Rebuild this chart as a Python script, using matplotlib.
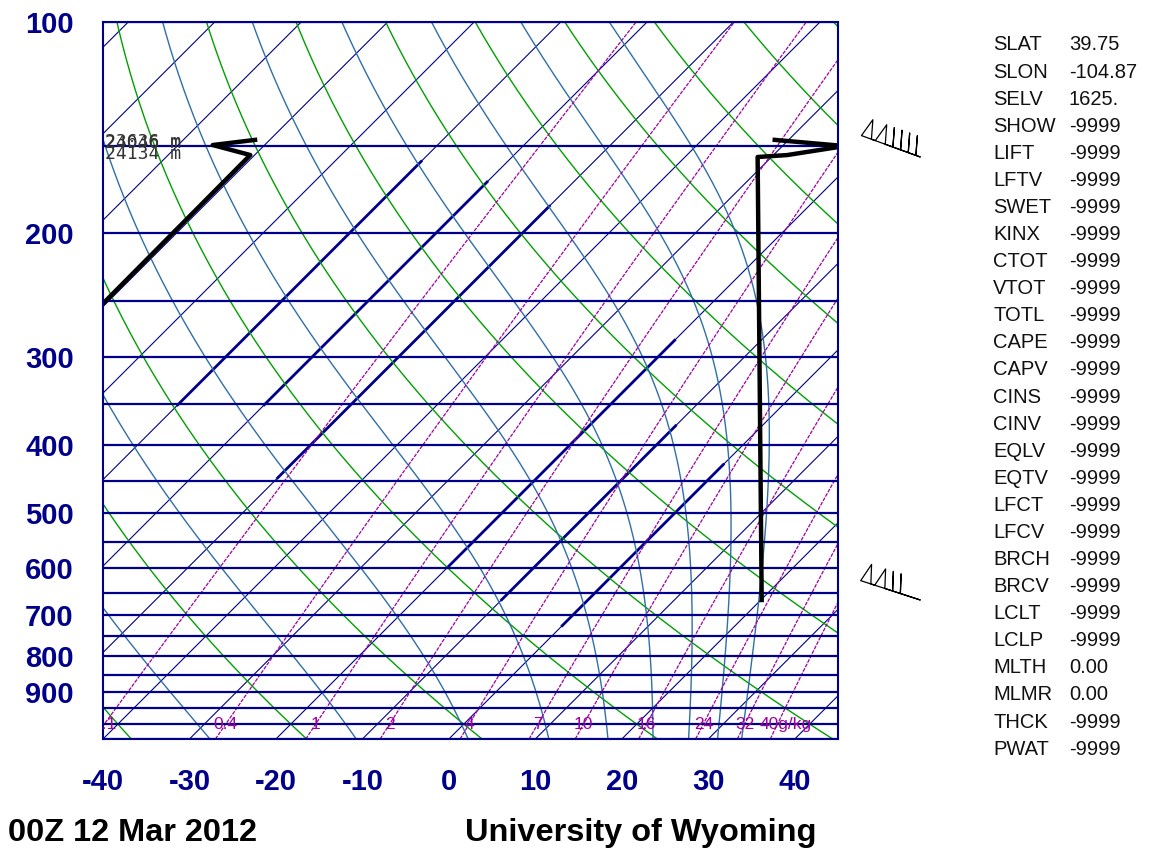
import numpy as np
import matplotlib
matplotlib.use('Agg')
import matplotlib.pyplot as plt
import matplotlib.transforms as mtransforms

# ---- diagram range ----
p_bot, p_top = 1050., 100.
t_left, t_right = -40., 45.

isobars = np.arange(100, 1051, 50)
p_ticks = [100, 200, 300, 400, 500, 600, 700, 800, 900]
t_ticks = [-40, -30, -20, -10, 0, 10, 20, 30, 40]
isotherms = np.arange(-130, 50, 10)
dry_theta = np.arange(-60, 200, 20)        # potential temperature, deg C
moist_thetae = np.arange(-30, 140, 20)     # equivalent pot. temperature, deg C
mix_ratios = [0.1, 0.4, 1, 2, 4, 7, 10, 16, 24, 32, 40]   # g/kg
mix_labels = ['0.1', '0.4', '1', '2', '4', '7', '10', '16', '24', '32', '40g/kg']
mix_label_p = 1000.

# bold stretches of some isotherms (deg C, bottom hPa, top hPa)
bold_t = [-70, -60, -50, -20, -10, 0]
bold_p_lo = [351, 351, 446, 598, 665, 724]
bold_p_hi = [158, 169, 183, 284, 376, 427]

# ---- sounding traces (hPa, deg C) ----
trace1_p = [300, 154.7, 149.7, 147.2]
trace1_t = [-90.3, -90.5, -96.0, -91.7]
trace2_p = [665.6, 155.7, 154.7, 150.2, 147.2]
trace2_t = [20.1, -31.6, -28.4, -22.8, -31.6]

height_labels = ['23636 m', '24046 m', '24134 m']
height_p = [148.3, 148.9, 154.3]

barb_p = [155.7, 665.6]
barb_speed = [140, 120]      # knots
barb_dir = [290, 288]        # degrees, wind from

stat_names = ['SLAT', 'SLON', 'SELV', 'SHOW', 'LIFT', 'LFTV', 'SWET', 'KINX',
              'CTOT', 'VTOT', 'TOTL', 'CAPE', 'CAPV', 'CINS', 'CINV', 'EQLV',
              'EQTV', 'LFCT', 'LFCV', 'BRCH', 'BRCV', 'LCLT', 'LCLP', 'MLTH',
              'MLMR', 'THCK', 'PWAT']
stat_values = ['39.75', '-104.87', '1625.', '-9999', '-9999', '-9999', '-9999',
               '-9999', '-9999', '-9999', '-9999', '-9999', '-9999', '-9999',
               '-9999', '-9999', '-9999', '-9999', '-9999', '-9999', '-9999',
               '-9999', '-9999', '0.00', '0.00', '-9999', '-9999']

NAVY = '#00008b'
GREEN = '#00a000'
STEEL = '#2f6fa8'
PURPLE = '#a000a0'

W, H = 1151, 852
fig = plt.figure(figsize=(W / 100, H / 100), dpi=100)
ax_box = [103 / W, 1 - 739 / H, 735 / W, 717 / H]
ax = fig.add_axes(ax_box)

# skew so that isotherms run at 45 degrees on screen
ax_w_in = ax_box[2] * W / 100
ax_h_in = ax_box[3] * H / 100
K = (ax_h_in / np.log(p_bot / p_top)) / (ax_w_in / (t_right - t_left))


def skew(t, p):
    return np.asarray(t) + K * np.log(p_bot / np.asarray(p))


def esat(tc):
    return 6.112 * np.exp(17.67 * tc / (tc + 243.5))


def thetae(tk, p):
    tc = tk - 273.15
    e = esat(tc)
    r = 622.0 * e / (p - e)
    return tk * (1000. / p) ** (0.2854 * (1 - 0.00028 * r)) * \
        np.exp((3.376 / tk - 0.00254) * r * (1 + 0.00081 * r))


pp = np.geomspace(p_bot, p_top, 300)

# isotherms
for t in isotherms:
    ax.plot(skew([t, t], [p_bot, p_top]), [p_bot, p_top], color=NAVY, lw=0.8)
for t, p0, p1 in zip(bold_t, bold_p_lo, bold_p_hi):
    ax.plot(skew([t, t], [p0, p1]), [p0, p1], color=NAVY, lw=2.0)

# dry adiabats
for th in dry_theta:
    tk = (th + 273.15) * (pp / 1000.) ** 0.2857
    ax.plot(skew(tk - 273.15, pp), pp, color=GREEN, lw=1.0)

# moist adiabats (solve theta_e(T, p) = target by bisection)
for the in moist_thetae:
    target = the + 273.15
    lo = np.full_like(pp, 120.)
    hi = np.full_like(pp, 340.)
    for _ in range(60):
        mid = 0.5 * (lo + hi)
        big = thetae(mid, pp) > target
        hi = np.where(big, mid, hi)
        lo = np.where(big, lo, mid)
    ax.plot(skew(lo - 273.15, pp), pp, color=STEEL, lw=1.0)

# mixing ratio lines
for w, lab in zip(mix_ratios, mix_labels):
    e = w / 1000. * pp / (0.622 + w / 1000.)
    x = np.log(e / 6.112)
    tc = 243.5 * x / (17.67 - x)
    ax.plot(skew(tc, pp), pp, color=PURPLE, lw=0.9, ls=(0, (3, 1)))
    e0 = w / 1000. * mix_label_p / (0.622 + w / 1000.)
    x0 = np.log(e0 / 6.112)
    t0 = 243.5 * x0 / (17.67 - x0)
    dx = 6 if lab.endswith('kg') else 0
    ax.annotate(lab, (skew(t0, mix_label_p), mix_label_p), xytext=(dx, 0),
                textcoords='offset points', ha='center', va='center',
                color=PURPLE, fontsize=12.5, family='Liberation Sans',
                clip_on=True)

# isobars
for p in isobars:
    ax.plot([t_left, t_right], [p, p], color=NAVY, lw=1.6)

# sounding
ax.plot(skew(trace1_t, trace1_p), trace1_p, color='black', lw=3.2)
ax.plot(skew(trace2_t, trace2_p), trace2_p, color='black', lw=3.2)

trans = mtransforms.blended_transform_factory(ax.transAxes, ax.transData)
for lab, p in zip(height_labels, height_p):
    ax.text(0.003, p, lab, transform=trans, ha='left', va='center',
            family='DejaVu Sans Mono', fontsize=13, color='#333333')

# wind barbs to the right of the diagram
spd = np.array(barb_speed, float)
d = np.radians(barb_dir)
u = -spd * np.sin(d)
v = -spd * np.cos(d)
ax.barbs(np.full(2, 1.112), barb_p, u, v, transform=trans, clip_on=False,
         length=9.5, lw=0.9, barbcolor='black', flagcolor='none', pivot='tip',
         sizes=dict(spacing=0.13, height=0.3, width=0.17))

ax.set_yscale('log')
ax.set_ylim(p_bot, p_top)
ax.set_xlim(t_left, t_right)
ax.set_yticks(p_ticks)
ax.set_yticklabels([str(p) for p in p_ticks])
ax.yaxis.set_minor_locator(matplotlib.ticker.NullLocator())
ax.set_xticks(t_ticks)
ax.set_xticklabels([str(t) for t in t_ticks])
ax.tick_params(length=0, labelsize=21, labelcolor=NAVY)
ax.tick_params(axis='y', pad=21)
ax.tick_params(axis='x', pad=21)
for lab in ax.get_xticklabels() + ax.get_yticklabels():
    lab.set_fontweight('bold')
    lab.set_family('Liberation Sans')
for s in ax.spines.values():
    s.set_color(NAVY)
    s.set_linewidth(1.5)

# station parameters
for i, (n, val) in enumerate(zip(stat_names, stat_values)):
    y = 1 - (45 + i * 27.08) / H
    fig.text(993 / W, y, n, ha='left', va='center', fontsize=14.5,
             family='Liberation Sans', color='#111111')
    fig.text(1069 / W, y, val, ha='left', va='center', fontsize=14.5,
             family='Liberation Sans', color='#111111')

fig.text(8 / W, 1 - 833 / H, '00Z 12 Mar 2012', ha='left', va='center',
         fontsize=23.4, fontweight='bold', family='Liberation Sans')
fig.text(465 / W, 1 - 833 / H, 'University of Wyoming', ha='left', va='center',
         fontsize=23.4, fontweight='bold', family='Liberation Sans')

fig.savefig('out.png', dpi=100)
